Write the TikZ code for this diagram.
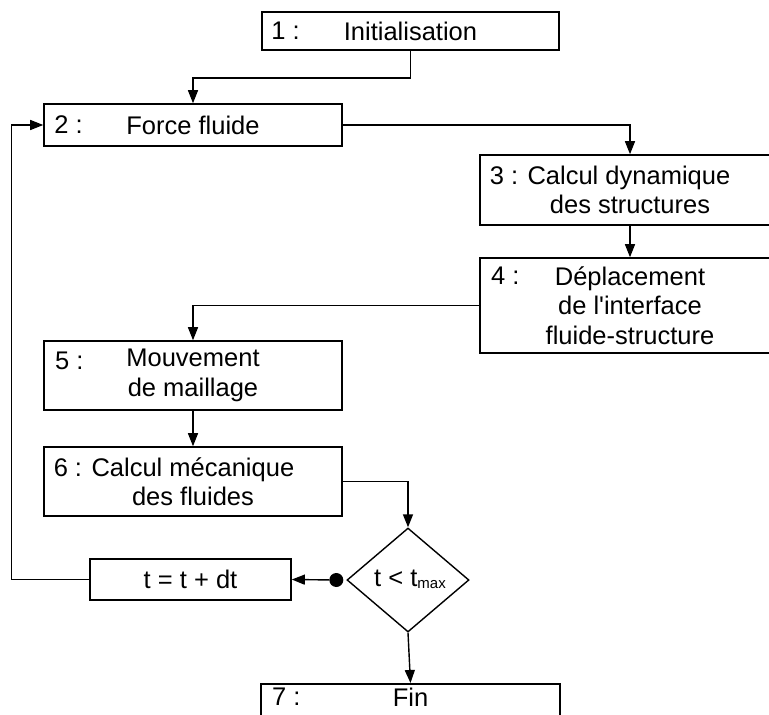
\documentclass[tikz,border=0pt]{standalone}
\usepackage{fontspec}
\setmainfont{Liberation Sans}
\usetikzlibrary{shapes.geometric,arrows.meta}
\begin{document}
\begin{tikzpicture}[x=1pt,y=-1pt,
  every node/.style={font=\fontsize{25.5}{29.5}\selectfont},
  box/.style={draw, line width=1.6pt, rectangle, inner sep=0pt, align=center},
  num/.style={anchor=west, inner sep=0pt},
  arr/.style={line width=1.4pt, -{Triangle[length=13pt,width=10pt]}},
  dec/.style={draw, diamond, line width=1.4pt, minimum width=122pt, minimum height=104pt, inner sep=0pt},
  dotnode/.style={circle, fill=black, inner sep=0pt, minimum size=14pt}
]
\useasboundingbox (0,0) rectangle (769,715);
\fill[white] (0,0) rectangle (769,715);
\clip (0,0) rectangle (769,715);

\node[box, minimum width=297pt, minimum height=38pt] (b1) at (410.5,31) {Initialisation};
\node[num] (n1) at ([xshift=10pt]b1.west) {1 :};

\node[box, minimum width=298pt, minimum height=42pt] (b2) at (193,125) {Force fluide};
\node[num] (n2) at ([xshift=11pt]b2.west) {2 :};

\node[box, minimum width=300pt, minimum height=70pt] (b3) at (630,190) {3 : Calcul dynamique\hspace*{40pt}\\des structures};

\node[box, minimum width=300pt, minimum height=95pt] (b4) at (630,305.5) {D\'eplacement\\de l\textquotesingle interface\\fluide-structure};
\node[num] (n4) at (491,276) {4 :};

\node[box, minimum width=298pt, minimum height=69pt] (b5) at (193,375.5) {Mouvement\\de maillage};
\node[num] (n5) at (55,361) {5 :};

\node[box, minimum width=298pt, minimum height=69pt] (b6) at (193,481.5) {6 : Calcul m\'ecanique\hspace*{38pt}\\des fluides};

\node[dec] (d) at (408,580) {};
\node[inner sep=0pt] (dtxt) at (410,579) {t < t\raisebox{-2pt}{\fontsize{15}{15}\selectfont max}};

\node[box, minimum width=201pt, minimum height=41pt] (bt) at (190.5,579.5) {t = t + dt};

\node[box, minimum width=299pt, minimum height=60pt, anchor=north] (b7) at (410.5,683) {};
\node[inner sep=0pt] (fin) at (410.5,697) {Fin};
\node[num] (n7) at (272,697) {7 :};

\node[dotnode] (dt) at ([xshift=-10pt]d.west) {};

\draw[arr] (b1.south) -- (b1.south |- 0,78) -- (b2.north |- 0,78) -- (b2.north);
\draw[arr] (b2.east) -| (b3.north);
\draw[arr] (b3.south) -- (b4.north);
\draw[arr] (b4.west) -| (b5.north);
\draw[arr] (b5.south) -- (b6.north);
\draw[arr] (b6.east) -| (d.north);
\draw[arr] (dt) -- (bt.east);
\draw[arr] (bt.west) -- ++(-78,0) |- (b2.west);
\draw[arr] (d.south) -- (b7.north);
\end{tikzpicture}
\end{document}
